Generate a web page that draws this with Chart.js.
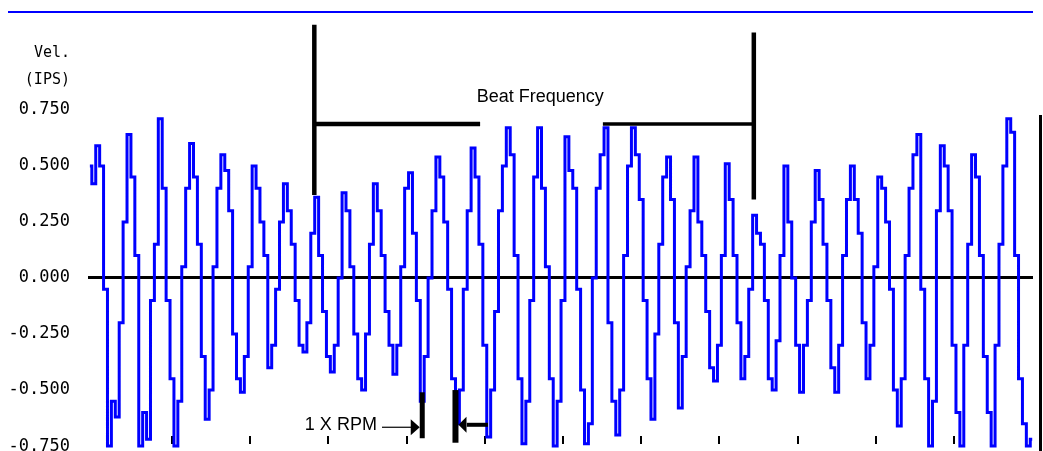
<!DOCTYPE html>
<html>
<head>
<meta charset="utf-8">
<script src="https://cdn.jsdelivr.net/npm/chart.js@4"></script>
<style>
  html, body { margin: 0; padding: 0; background: #fff; overflow: hidden; }
  #wrap { position: relative; width: 1043px; height: 451px; }
  #topRule { position: absolute; left: 8px; top: 11px; width: 1025px; height: 2px; background: #0000ff; }
  #rightRule { position: absolute; left: 1039px; top: 115px; width: 3px; height: 336px; background: #000; }
  .unit { position: absolute; right: 973px; font: 15px "DejaVu Sans Mono", monospace; color: #000; }
</style>
</head>
<body>
<div id="wrap">
  <canvas id="myChart" width="1043" height="451"></canvas>
  <div id="topRule"></div>
  <div id="rightRule"></div>
  <div class="unit" style="top:43px">Vel.</div>
  <div class="unit" style="top:70px">(IPS)</div>
</div>
<script>
// waveform, one sample every 0.5 ms
const sampleMs = 0.5;
const firstMs = -0.5;
const wave = [
  0.50, 0.42, 0.59, 0.50, -0.05, -0.75, -0.55, -0.62, -0.20, 0.25, 0.64, 0.45, 0.10, -0.75, -0.60, -0.72, -0.10, 0.15, 0.71, 0.40,
  -0.10, -0.45, -0.75, -0.55, 0.05, 0.40, 0.60, 0.45, 0.15, -0.35, -0.63, -0.50, 0.05, 0.40, 0.55, 0.48, 0.30, -0.25, -0.45, -0.51,
  -0.35, 0.05, 0.50, 0.40, 0.25, 0.10, -0.40, -0.30, -0.05, 0.25, 0.42, 0.30, 0.15, -0.10, -0.30, -0.33, -0.20, 0.20, 0.36, 0.10,
  -0.15, -0.35, -0.42, -0.30, 0.00, 0.38, 0.30, 0.05, -0.25, -0.45, -0.50, -0.25, 0.15, 0.42, 0.30, 0.10, -0.15, -0.30, -0.43, -0.30,
  0.05, 0.40, 0.47, 0.20, -0.10, -0.55, -0.35, 0.00, 0.30, 0.54, 0.45, 0.25, -0.05, -0.45, -0.65, -0.50, -0.05, 0.30, 0.58, 0.45,
  0.15, -0.30, -0.71, -0.50, -0.15, 0.30, 0.50, 0.67, 0.55, 0.10, -0.45, -0.74, -0.55, -0.10, 0.45, 0.67, 0.40, 0.05, -0.45, -0.75,
  -0.55, -0.10, 0.63, 0.48, 0.40, -0.05, -0.50, -0.74, -0.65, 0.00, 0.40, 0.55, 0.67, -0.20, -0.55, -0.70, -0.50, 0.10, 0.50, 0.67,
  0.55, 0.35, -0.10, -0.45, -0.63, -0.25, 0.15, 0.45, 0.54, 0.35, -0.20, -0.58, -0.35, 0.05, 0.30, 0.54, 0.25, 0.10, -0.15, -0.40,
  -0.46, -0.30, 0.10, 0.51, 0.35, 0.10, -0.20, -0.45, -0.35, -0.05, 0.28, 0.20, 0.15, -0.10, -0.45, -0.50, -0.28, 0.10, 0.50, 0.25,
  0.00, -0.30, -0.51, -0.30, -0.10, 0.25, 0.48, 0.35, 0.15, -0.10, -0.40, -0.51, -0.30, 0.10, 0.35, 0.50, 0.35, 0.20, -0.20, -0.45,
  -0.30, 0.05, 0.45, 0.40, 0.25, -0.05, -0.50, -0.66, -0.45, 0.10, 0.40, 0.55, 0.64, -0.05, -0.45, -0.75, -0.55, 0.30, 0.59, 0.50,
  0.30, -0.30, -0.60, -0.75, -0.30, 0.15, 0.55, 0.45, 0.10, -0.35, -0.60, -0.75, -0.30, 0.15, 0.50, 0.71, 0.65, 0.10, -0.45, -0.65,
  -0.75, -0.72
];

const yTicks = [0.75, 0.5, 0.25, 0, -0.25, -0.5, -0.75];
const xTicks = [10, 20, 30, 40, 50, 60, 70, 80, 90, 100, 110];

// annotation positions (ms / amplitude)
const beatStart = 28.2;
const beatEnd = 84.4;
const rpmLeft = 42.0;
const rpmRight = 46.25;

const points = wave.map((v, i) => ({ x: firstMs + i * sampleMs, y: v }));

const annotations = {
  id: "annotations",
  afterDatasetsDraw(chart) {
    const { ctx, scales: { x, y } } = chart;
    ctx.save();
    ctx.fillStyle = "#000";
    ctx.strokeStyle = "#000";
    ctx.lineCap = "butt";

    const vline = (t, v1, v2, w) => {
      ctx.lineWidth = w;
      ctx.beginPath();
      ctx.moveTo(x.getPixelForValue(t), y.getPixelForValue(v1));
      ctx.lineTo(x.getPixelForValue(t), y.getPixelForValue(v2));
      ctx.stroke();
    };
    const hline = (t1, t2, v, w) => {
      ctx.lineWidth = w;
      ctx.beginPath();
      ctx.moveTo(x.getPixelForValue(t1), y.getPixelForValue(v));
      ctx.lineTo(x.getPixelForValue(t2), y.getPixelForValue(v));
      ctx.stroke();
    };

    // beat frequency bracket
    vline(beatStart, 1.13, 0.37, 4.5);
    vline(beatEnd, 1.095, 0.35, 4.5);
    hline(beatStart, 49.4, 0.6875, 4.5);
    hline(65.1, beatEnd, 0.6875, 3.5);
    ctx.font = '18px "Liberation Sans", Arial, sans-serif';
    ctx.textAlign = "center";
    ctx.textBaseline = "middle";
    ctx.fillText("Beat Frequency", x.getPixelForValue(57.1), y.getPixelForValue(0.808));

    // 1 x rpm markers
    vline(rpmLeft, -0.51, -0.715, 5);
    vline(rpmRight, -0.50, -0.735, 6);
    const yl = y.getPixelForValue(-0.666);
    const yr = y.getPixelForValue(-0.655);
    const xl = x.getPixelForValue(rpmLeft) - 2.5;
    const xr = x.getPixelForValue(rpmRight) + 3;
    ctx.beginPath();
    ctx.moveTo(xl, yl);
    ctx.lineTo(xl - 9, yl - 8);
    ctx.lineTo(xl - 9, yl + 8);
    ctx.closePath();
    ctx.fill();
    ctx.beginPath();
    ctx.moveTo(xr, yr);
    ctx.lineTo(xr + 8, yr - 8);
    ctx.lineTo(xr + 8, yr + 8);
    ctx.closePath();
    ctx.fill();
    hline(36.85, 40.6, -0.666, 1.2);
    hline(47.7, 50.4, -0.655, 4);
    ctx.textAlign = "right";
    ctx.fillText("1 X RPM", x.getPixelForValue(36.2), y.getPixelForValue(-0.654));

    ctx.restore();
  }
};

const ctx = document.getElementById("myChart");

new Chart(ctx, {
  type: "line",
  data: {
    datasets: [
      {
        data: points,
        borderColor: "#0000ff",
        borderWidth: 3,
        stepped: "middle",
        pointRadius: 0,
        fill: false,
        clip: false,
      },
    ],
  },
  options: {
    responsive: false,
    animation: false,
    layout: { padding: { left: 0, right: 10, top: 9, bottom: 7 } },
    plugins: { legend: { display: false }, tooltip: { enabled: false } },
    scales: {
      x: {
        type: "linear",
        min: -0.74,
        max: 120.1,
        afterBuildTicks: (scale) => { scale.ticks = xTicks.map((v) => ({ value: v })); },
        ticks: { display: false },
        border: { display: false },
        grid: { drawOnChartArea: false, drawTicks: true, tickLength: 8, color: "#000", lineWidth: 2 },
      },
      y: {
        min: -0.705,
        max: 1.2,
        afterBuildTicks: (scale) => { scale.ticks = yTicks.map((v) => ({ value: v })); },
        afterFit: (scale) => {
          scale.width = 88;
          // labels may overflow the plot edges, like the original
          scale.paddingTop = 0;
          scale.paddingBottom = 0;
        },
        ticks: {
          padding: 18,
          color: "#000",
          font: { family: '"DejaVu Sans Mono", monospace', size: 17 },
          callback: (v) => Number(v).toFixed(3),
        },
        border: { display: false },
        grid: {
          drawTicks: false,
          lineWidth: 3,
          color: (c) => (c.tick && c.tick.value === 0 ? "#000" : "rgba(0,0,0,0)"),
        },
      },
    },
  },
  plugins: [annotations],
});
</script>
</body>
</html>
